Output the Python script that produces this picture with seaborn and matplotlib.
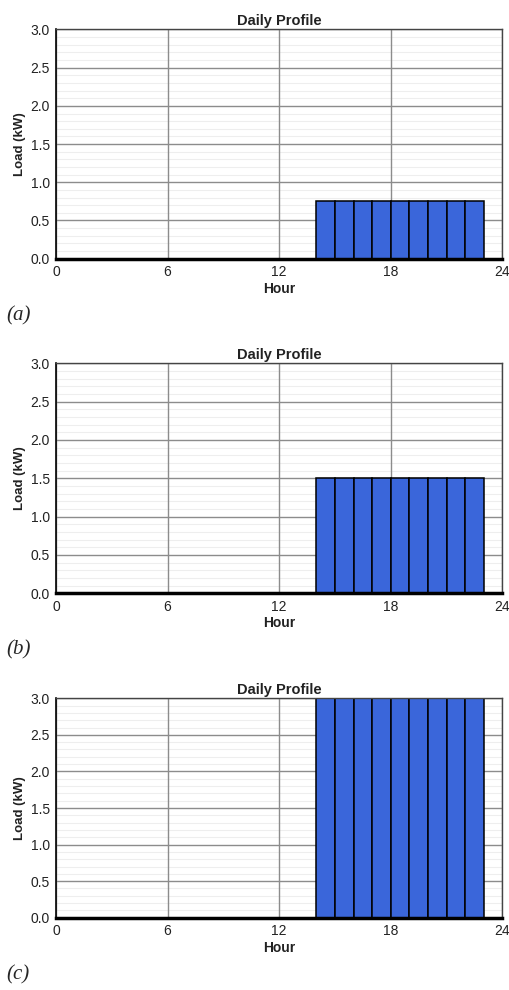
import numpy as np
import matplotlib
matplotlib.use("Agg")
import matplotlib.pyplot as plt
import seaborn as sns

# hourly load profile (kW), hours 0..23
hours = list(range(24))
load_a = [0, 0, 0, 0, 0, 0, 0, 0, 0, 0, 0, 0, 0, 0,
          0.75, 0.75, 0.75, 0.75, 0.75, 0.75, 0.75, 0.75, 0.75, 0]
load_b = [0, 0, 0, 0, 0, 0, 0, 0, 0, 0, 0, 0, 0, 0,
          1.5, 1.5, 1.5, 1.5, 1.5, 1.5, 1.5, 1.5, 1.5, 0]
load_c = [0, 0, 0, 0, 0, 0, 0, 0, 0, 0, 0, 0, 0, 0,
          3.0, 3.0, 3.0, 3.0, 3.0, 3.0, 3.0, 3.0, 3.0, 0]
profiles = [load_a, load_b, load_c]
panel_labels = ["(a)", "(b)", "(c)"]
xticks = [0, 6, 12, 18, 24]
yticks = [0.0, 0.5, 1.0, 1.5, 2.0, 2.5, 3.0]

sns.set_style("white")
plt.rcParams["font.family"] = ["Liberation Sans", "DejaVu Sans"]

fig = plt.figure(figsize=(5.09, 9.90), dpi=100)

# axes boxes in pixels: (top, bottom)
boxes = [(29.5, 258.7), (363.3, 593.3), (698.3, 917.7)]
left, right = 56, 502.5
W, H = 509, 990

for i, (load, lab) in enumerate(zip(profiles, panel_labels)):
    top, bot = boxes[i]
    ax = fig.add_axes([left / W, 1 - bot / H, (right - left) / W, (bot - top) / H])
    ax.set_axisbelow(True)
    # faint minor grid, kept under the major vertical lines
    ax.set_yticks(np.arange(0, 3.01, 0.1), minor=True)
    ax.grid(which="minor", axis="y", color="#eeeeee", lw=0.8)
    ax.grid(which="major", color="#8c8c8c", lw=1.0)
    ax.yaxis.set_zorder(0.4)

    sns.histplot(x=hours, weights=load, bins=24, binrange=(0, 24), ax=ax,
                 color="#3A66DA", alpha=1, edgecolor="black", linewidth=1.1)

    ax.set_xlim(0, 24)
    ax.set_ylim(0, 3.0)
    ax.set_xticks(xticks)
    ax.set_yticks(yticks)
    ax.set_yticklabels([f"{v:.1f}" for v in yticks])
    ax.tick_params(axis="both", which="major", direction="out", length=3, width=1,
                   colors="#222222", labelsize=10, pad=1.5)
    ax.tick_params(axis="y", which="minor", length=0)
    ax.set_title("Daily Profile", fontsize=10.5, fontweight="bold", color="#222222", pad=3)
    ax.set_xlabel("Hour", fontsize=10, fontweight="bold", color="#222222", labelpad=2)
    ax.set_ylabel("Load (kW)", fontsize=9.5, fontweight="bold", color="#222222", labelpad=3)

    for s in ["top", "right"]:
        ax.spines[s].set_color("#444444")
        ax.spines[s].set_linewidth(1.0)
    ax.spines["left"].set_color("black")
    ax.spines["left"].set_linewidth(1.2)
    ax.spines["bottom"].set_color("black")
    ax.spines["bottom"].set_linewidth(2.5)

    fig.text(6 / W, 1 - (bot + 57) / H, lab, fontsize=15, fontstyle="italic",
             family="Liberation Serif", va="center", ha="left")

fig.savefig("out.png", dpi=100)
